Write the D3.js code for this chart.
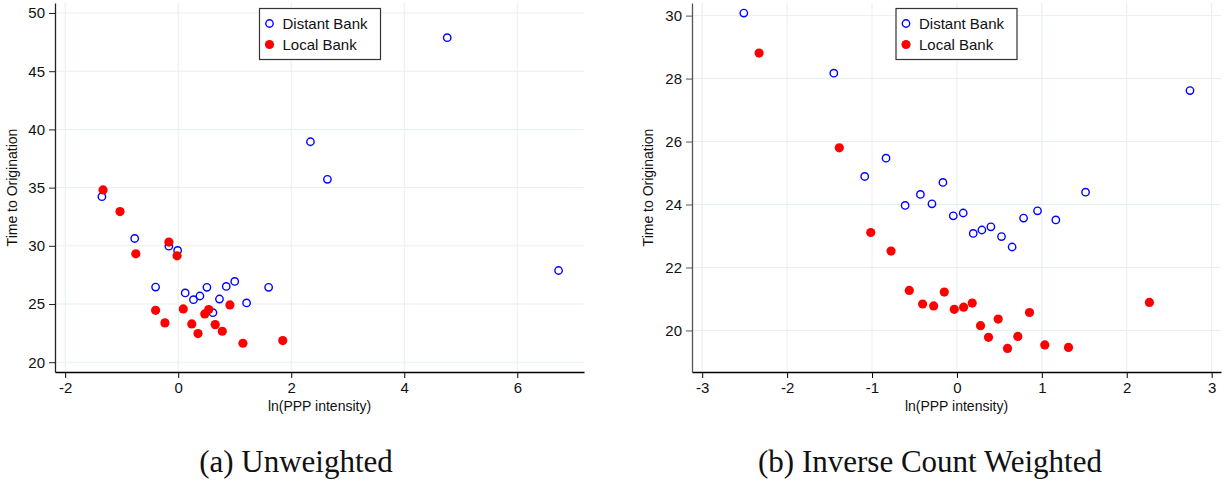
<!DOCTYPE html>
<html lang="en">
<head>
<meta charset="UTF-8" />
<title>Time to Origination vs ln(PPP intensity)</title>
<script src="https://d3js.org/d3.v7.min.js"></script>
<style>
  body { margin: 0; background: #fff; }
  svg { display: block; font-family: "Liberation Sans", Arial, sans-serif; }
  .grid line { stroke: #e6eff1; stroke-width: 1; }
  .tick text { font-size: 15px; fill: #111; }
</style>
</head>
<body>
<div id="chart"></div>
<script>
// panel (a): unweighted
const aDistantX = [-1.35, -0.77, -0.40, -0.165, -0.01, 0.124, 0.27, 0.384, 0.508, 0.614, 0.73, 0.85, 1.0, 1.21, 1.60, 2.34, 2.64, 4.76, 6.73];
const aDistantY = [34.22, 30.63, 26.46, 29.97, 29.6, 25.95, 25.37, 25.69, 26.43, 24.26, 25.43, 26.51, 26.94, 25.09, 26.43, 38.94, 35.71, 47.88, 27.88];
const aLocalX = [-1.33, -1.03, -0.75, -0.165, -0.02, -0.40, -0.235, 0.09, 0.24, 0.35, 0.47, 0.54, 0.655, 0.78, 0.915, 1.145, 1.85];
const aLocalY = [34.8, 32.94, 29.31, 30.32, 29.14, 24.46, 23.38, 24.58, 23.29, 22.46, 24.15, 24.52, 23.23, 22.66, 24.92, 21.63, 21.86];

// panel (b): inverse count weighted
const bDistantX = [-2.51, -1.45, -1.086, -0.835, -0.61, -0.43, -0.294, -0.165, -0.043, 0.074, 0.192, 0.294, 0.40, 0.525, 0.65, 0.785, 0.949, 1.165, 1.515, 2.745];
const bDistantY = [30.08, 28.17, 24.89, 25.47, 23.97, 24.32, 24.02, 24.70, 23.64, 23.73, 23.08, 23.19, 23.29, 22.98, 22.65, 23.57, 23.80, 23.51, 24.39, 27.62];
const bLocalX = [-2.33, -1.385, -1.015, -0.776, -0.561, -0.404, -0.274, -0.149, -0.031, 0.079, 0.18, 0.278, 0.372, 0.486, 0.596, 0.717, 0.855, 1.035, 1.314, 2.267];
const bLocalY = [28.81, 25.8, 23.11, 22.52, 21.27, 20.84, 20.78, 21.22, 20.67, 20.74, 20.87, 20.15, 19.78, 20.36, 19.43, 19.81, 20.57, 19.54, 19.46, 20.89];

const aXTicks = [-2, 0, 2, 4, 6];
const aYTicks = [20, 25, 30, 35, 40, 45, 50];
const bXTicks = [-3, -2, -1, 0, 1, 2, 3];
const bYTicks = [20, 22, 24, 26, 28, 30];

const seriesNames = ["Distant Bank", "Local Bank"];
const xTitle = "ln(PPP intensity)";
const yTitle = "Time to Origination";

const W = 1225, H = 481;
const svg = d3.select("#chart").append("svg")
  .attr("width", W).attr("height", H);

// plain hyphen minus, as in the original
const fmt = d => String(d);

function panel(opt) {
  const x = d3.scaleLinear().domain(opt.xDomain).range([opt.left, opt.right]);
  const y = d3.scaleLinear().domain(opt.yDomain).range([opt.bottom, opt.top]);
  const g = svg.append("g");

  // grid
  const grid = g.append("g").attr("class", "grid");
  grid.selectAll("line.v").data(opt.xTicks).join("line")
    .attr("x1", d => x(d)).attr("x2", d => x(d))
    .attr("y1", opt.top).attr("y2", opt.bottom);
  grid.selectAll("line.h").data(opt.yTicks).join("line")
    .attr("class", "h")
    .attr("x1", opt.left).attr("x2", opt.right)
    .attr("y1", d => y(d)).attr("y2", d => y(d));

  // axes
  const xa = g.append("g").attr("transform", `translate(0,${opt.bottom})`)
    .call(d3.axisBottom(x).tickValues(opt.xTicks).tickFormat(fmt)
      .tickSize(6).tickPadding(4).tickSizeOuter(0));
  xa.select(".domain").attr("stroke", "#000").attr("stroke-width", 1.3);
  xa.selectAll(".tick line").attr("stroke", "#000");
  const ya = g.append("g").attr("transform", `translate(${opt.left},0)`)
    .call(d3.axisLeft(y).tickValues(opt.yTicks).tickFormat(fmt)
      .tickSize(6).tickPadding(4).tickSizeOuter(0));
  ya.select(".domain").attr("stroke", opt.yAxisColor).attr("stroke-width", 1.3);
  ya.selectAll(".tick line").attr("stroke", opt.yAxisColor);

  // titles
  g.append("text")
    .attr("x", (opt.left + opt.right) / 2).attr("y", 411)
    .attr("text-anchor", "middle").attr("font-size", 14).attr("fill", "#111")
    .text(xTitle);
  g.append("text")
    .attr("transform", `translate(${opt.yTitleX},${(opt.top + opt.bottom) / 2}) rotate(-90)`)
    .attr("text-anchor", "middle").attr("font-size", 14).attr("fill", "#111")
    .text(yTitle);

  // points
  const dist = d3.zip(opt.dX, opt.dY);
  const loc = d3.zip(opt.lX, opt.lY);
  g.append("g").selectAll("circle").data(dist).join("circle")
    .attr("cx", d => x(d[0])).attr("cy", d => y(d[1])).attr("r", 3.7)
    .attr("fill", "none").attr("stroke", "#0000ff").attr("stroke-width", 1.4);
  g.append("g").selectAll("circle").data(loc).join("circle")
    .attr("cx", d => x(d[0])).attr("cy", d => y(d[1])).attr("r", 4.6)
    .attr("fill", "#ff0000");

  // legend
  const lg = g.append("g").attr("transform", `translate(${opt.legendX},8.5)`);
  lg.append("rect").attr("width", 121).attr("height", 51)
    .attr("fill", "#fff").attr("stroke", "#333").attr("stroke-width", 1.2);
  lg.append("circle").attr("cx", 10).attr("cy", 15).attr("r", 3.7)
    .attr("fill", "none").attr("stroke", "#0000ff").attr("stroke-width", 1.4);
  lg.append("circle").attr("cx", 10).attr("cy", 36).attr("r", 4.6).attr("fill", "#ff0000");
  lg.selectAll("text").data(seriesNames).join("text")
    .attr("x", 23).attr("y", (d, i) => 20.5 + i * 21)
    .attr("font-size", 15).attr("fill", "#111")
    .text(d => d);

  // caption
  svg.append("text")
    .attr("x", opt.captionX).attr("y", 472)
    .attr("text-anchor", "middle")
    .attr("font-family", "'Liberation Serif', 'DejaVu Serif', serif")
    .attr("font-size", 31).attr("fill", "#111")
    .text(opt.caption);
}

panel({
  left: 55, right: 584, top: 3, bottom: 372,
  xDomain: [-2.18, 7.18], yDomain: [19.16, 50.86],
  xTicks: aXTicks, yTicks: aYTicks,
  dX: aDistantX, dY: aDistantY, lX: aLocalX, lY: aLocalY,
  yAxisColor: "#222", yTitleX: 17, legendX: 259.5,
  caption: "(a) Unweighted", captionX: 296
});

panel({
  left: 692, right: 1221, top: 3, bottom: 372,
  xDomain: [-3.12, 3.11], yDomain: [18.68, 30.4],
  xTicks: bXTicks, yTicks: bYTicks,
  dX: bDistantX, dY: bDistantY, lX: bLocalX, lY: bLocalY,
  yAxisColor: "#555", yTitleX: 653, legendX: 896,
  caption: "(b) Inverse Count Weighted", captionX: 930
});
</script>
</body>
</html>
